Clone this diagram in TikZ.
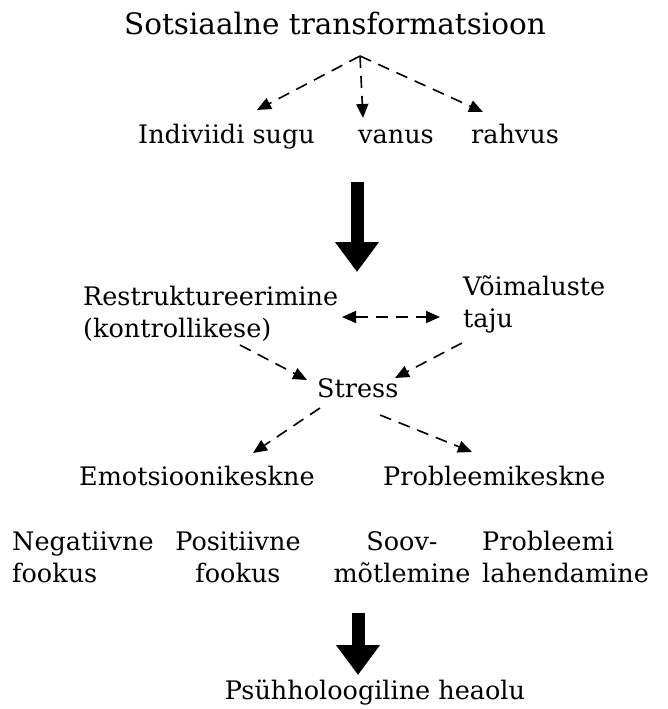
\documentclass[tikz,border=0pt]{standalone}
\usepackage{fontspec}
\setmainfont{DejaVu Serif}
\usetikzlibrary{arrows.meta}

\tikzset{
  lbl/.style={inner sep=0pt, font=\fontsize{25.5}{32}\selectfont},
  dasharrow/.style={line width=1.6pt, dash pattern=on 12pt off 8pt, -{Triangle[length=14pt,width=12pt]}},
  bigarrow/.style={line width=13pt, -{Triangle[length=30pt,width=42pt]}}
}

\begin{document}
\begin{tikzpicture}[x=1pt,y=-1pt]
        \useasboundingbox (0,0) rectangle (667,709);

        \node [lbl, anchor=base, font=\fontsize{29.5}{34}\selectfont] (title) at (335,35) {Sotsiaalne transformatsioon};

        \node [lbl, anchor=base] (sugu) at (226.5,143) {Indiviidi sugu};
        \node [lbl, anchor=base] (vanus) at (396,143) {vanus};
        \node [lbl, anchor=base] (rahvus) at (515,143) {rahvus};

        \coordinate (apex) at (360,56);
        \coordinate (sugutop) at (257,110);
        \coordinate (vanustop) at (363,118);
        \coordinate (rahvustop) at (483,112);

        \draw [dasharrow] (apex) -- (sugutop);
        \draw [dasharrow] (apex) -- (vanustop);
        \draw [dasharrow] (apex) -- (rahvustop);

        \coordinate (bigtop) at (357,182);
        \coordinate (bigtip) at (357,272);
        \draw [bigarrow] (bigtop) -- (bigtip);

        \node [lbl, anchor=base west, align=left] (restr) at (83,337) {Restruktureerimine\\(kontrollikese)};
        \node [lbl, anchor=base west, align=left] (voim) at (463,327) {Võimaluste\\taju};

        \coordinate (restrend) at (342,317);
        \coordinate (voimend) at (440,317);
        \draw [dasharrow, {Triangle[length=14pt,width=12pt]}-{Triangle[length=14pt,width=12pt]}] (restrend) -- (voimend);

        \node [lbl, anchor=base west] (stress) at (317,397) {Stress};

        \coordinate (restrout) at (240,345);
        \coordinate (stressleft) at (307,380);
        \coordinate (voimout) at (462,343);
        \coordinate (stressright) at (395,378);
        \draw [dasharrow] (restrout) -- (stressleft);
        \draw [dasharrow] (voimout) -- (stressright);

        \node [lbl, anchor=base west] (emots) at (79,485) {Emotsioonikeskne};
        \node [lbl, anchor=base west] (probl) at (383,485) {Probleemikeskne};

        \coordinate (stressoutl) at (320,408);
        \coordinate (emotstop) at (253,453);
        \coordinate (stressoutr) at (380,415);
        \coordinate (probltop) at (472,452);
        \draw [dasharrow] (stressoutl) -- (emotstop);
        \draw [dasharrow] (stressoutr) -- (probltop);

        \node [lbl, anchor=base west, align=left] (negat) at (12,582) {Negatiivne\\fookus};
        \node [lbl, anchor=base, align=center] (posit) at (238,582) {Positiivne\\fookus};
        \node [lbl, anchor=base, align=center] (soov) at (402,582) {Soov-\\mõtlemine};
        \node [lbl, anchor=base west, align=left] (lahend) at (482,582) {Probleemi\\lahendamine};

        \coordinate (bigtop2) at (358,613);
        \coordinate (bigtip2) at (358,675);
        \draw [bigarrow] (bigtop2) -- (bigtip2);

        \node [lbl, anchor=base] (heaolu) at (375,699) {Psühholoogiline heaolu};
      \end{tikzpicture}
\end{document}
